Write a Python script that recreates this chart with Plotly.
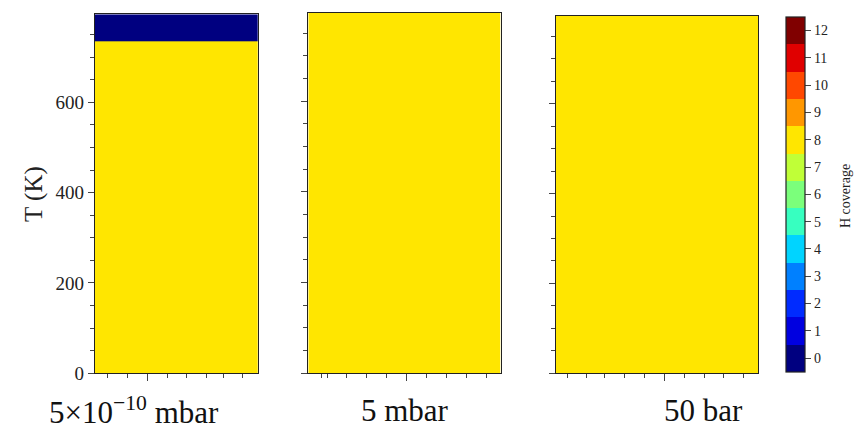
import plotly.graph_objects as go

# ---------------- data ----------------
coverage_levels = list(range(13))
jet_colors = ["#000080", "#0000e0", "#002bff", "#0080ff", "#00d4ff", "#37ffc0",
              "#7bff7b", "#c0ff37", "#ffe600", "#ff9700", "#ff4800", "#e00000", "#800000"]

pressure_labels = ["5×10<sup>−10</sup> mbar", "5 mbar", "50 bar"]
y_title = "T (K)"
cbar_title = "H coverage"

# temperature cell edges (K) and H coverage per panel
T_edges_p1 = [0, 735, 795]
cov_p1 = [[8], [0]]
T_edges_p2 = [0, 795]
cov_p2 = [[8]]
T_edges_p3 = [0, 795]
cov_p3 = [[8]]
x_edges = [0, 1]

y_major = [0, 200, 400, 600]
y_minor = list(range(0, 800, 50))

x_major = [[0.324], [0.511], [0.536]]
x_minor = [[0.078, 0.201, 0.447, 0.564, 0.687, 0.789, 0.905],
           [0.070, 0.101, 0.200, 0.304, 0.408, 0.615, 0.719, 0.823, 0.924],
           [0.059, 0.153, 0.243, 0.339, 0.437, 0.635, 0.733, 0.827, 0.926]]

# ---------------- layout geometry ----------------
W, H = 857, 429
x_dom = [(95, 257.7), (308.3, 500.7), (555.7, 758.3)]
y_top = [14.3, 12.7, 16.0]
y_bot = 373.3

FONT = "Liberation Serif"

colorscale = []
n = len(jet_colors)
for i, c in enumerate(jet_colors):
    colorscale.append([i / n, c])
    colorscale.append([(i + 1) / n, c])

fig = go.Figure()
panels = [(T_edges_p1, cov_p1), (T_edges_p2, cov_p2), (T_edges_p3, cov_p3)]
for k, (ty, zz) in enumerate(panels):
    xa = "x" if k == 0 else f"x{k+1}"
    ya = "y" if k == 0 else f"y{k+1}"
    fig.add_trace(go.Heatmap(x=x_edges, y=ty, z=zz, coloraxis="coloraxis",
                             xaxis=xa, yaxis=ya, hoverinfo="skip"))

axis_common = dict(showline=True, mirror=True, linecolor="#222", linewidth=1.2,
                   showgrid=False, zeroline=False, ticks="outside",
                   tickcolor="#444", tickwidth=1)

layout = dict(width=W, height=H, autosize=False,
              margin=dict(l=0, r=0, t=0, b=0, autoexpand=False),
              paper_bgcolor="white", plot_bgcolor="white",
              font=dict(family=FONT, size=18, color="#222"),
              showlegend=False)

for k in range(3):
    xk = "xaxis" if k == 0 else f"xaxis{k+1}"
    yk = "yaxis" if k == 0 else f"yaxis{k+1}"
    x0, x1 = x_dom[k]
    layout[xk] = dict(axis_common, domain=[x0 / W, x1 / W], range=[0, 1],
                      tickmode="array", tickvals=x_major[k], showticklabels=False,
                      ticklen=7,
                      anchor="y" if k == 0 else f"y{k+1}",
                      minor=dict(tickmode="array", tickvals=x_minor[k], ticks="outside",
                                 ticklen=4, tickcolor="#444", showgrid=False))
    layout[yk] = dict(axis_common, domain=[1 - y_bot / H, 1 - y_top[k] / H],
                      range=[0, 795], tickmode="array", tickvals=y_major,
                      showticklabels=(k == 0), ticklen=6,
                      anchor="x" if k == 0 else f"x{k+1}",
                      tickfont=dict(size=19),
                      minor=dict(tickmode="array", tickvals=y_minor, ticks="outside",
                                 ticklen=4, tickcolor="#444", showgrid=False))

layout["coloraxis"] = dict(
    colorscale=colorscale, cmin=-0.5, cmax=12.5,
    colorbar=dict(
        x=786 / W, xanchor="left", xpad=0, ypad=0,
        y=1 - ((16.7 + 372) / 2) / H, yanchor="middle",
        len=(372 - 16.7) / H, lenmode="fraction",
        thickness=19, thicknessmode="pixels",
        outlinecolor="#222", outlinewidth=1.2,
        tickmode="array", tickvals=coverage_levels,
        ticktext=[str(v) for v in coverage_levels],
        ticks="outside", ticklen=6, tickcolor="#444",
        tickfont=dict(size=14, family=FONT),
    ),
)

centers = [134, 405, 703]
annotations = [
    dict(text=lab, x=c / W, y=1 - 410 / H, xref="paper", yref="paper",
         xanchor="center", yanchor="middle", showarrow=False,
         font=dict(size=31, family=FONT, color="#111"))
    for lab, c in zip(pressure_labels, centers)
]
annotations.append(dict(text=y_title, x=34 / W, y=1 - 194 / H, xref="paper", yref="paper",
                        xanchor="center", yanchor="middle", showarrow=False, textangle=-90,
                        font=dict(size=25, family=FONT, color="#222")))
annotations.append(dict(text=cbar_title, x=845 / W, y=1 - 196 / H, xref="paper", yref="paper",
                        xanchor="center", yanchor="middle", showarrow=False, textangle=-90,
                        font=dict(size=14, family=FONT, color="#222")))
layout["annotations"] = annotations

fig.update_layout(**layout)
fig.write_html("out.html", config={"displayModeBar": False},
               post_script="document.body.style.margin='0';document.body.style.padding='0';")
